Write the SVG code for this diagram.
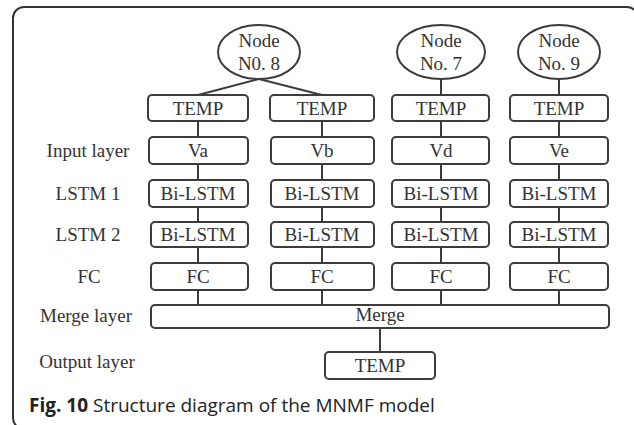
<svg xmlns="http://www.w3.org/2000/svg" width="634" height="425" viewBox="0 0 634 425">
<style>
.bx{fill:#fff;stroke:#3c3c3c;stroke-width:2}
.el{fill:#fff;stroke:#3c3c3c;stroke-width:2}
.t{font-family:"Liberation Serif","Times New Roman",serif;font-size:19px;fill:#333;text-anchor:middle}
.ln{stroke:#3c3c3c;stroke-width:2;fill:none}
.cap{font-family:"Open Sans","Noto Sans",sans-serif;font-size:19px;fill:#222}
</style>
<rect x="13" y="7" width="625" height="422" rx="11" fill="#fff" stroke="#333" stroke-width="2"/>
<g id="labels">
<text class="t" x="88" y="157">Input layer</text>
<text class="t" x="88" y="200">LSTM 1</text>
<text class="t" x="88" y="241">LSTM 2</text>
<text class="t" x="89" y="283">FC</text>
<text class="t" x="86" y="322">Merge layer</text>
<text class="t" x="87" y="368">Output layer</text>
</g>
<g id="connectors">
<line class="ln" x1="259" y1="79" x2="198" y2="95"/>
<line class="ln" x1="259" y1="79" x2="322" y2="95"/>
<line class="ln" x1="441" y1="79" x2="441" y2="95"/>
<line class="ln" x1="559" y1="79" x2="559" y2="95"/>
<line class="ln" x1="198" y1="121" x2="198" y2="305"/>
<line class="ln" x1="322" y1="121" x2="322" y2="305"/>
<line class="ln" x1="441" y1="121" x2="441" y2="305"/>
<line class="ln" x1="559" y1="121" x2="559" y2="305"/>
<line class="ln" x1="380" y1="328" x2="380" y2="352"/>
</g>
<g id="node8"><ellipse class="el" cx="259" cy="52" rx="41" ry="27"/><text class="t" x="259" y="47">Node</text><text class="t" x="259" y="70">N0. 8</text></g>
<g id="node7"><ellipse class="el" cx="441" cy="52" rx="44" ry="27"/><text class="t" x="441" y="47">Node</text><text class="t" x="441" y="70">No. 7</text></g>
<g id="node9"><ellipse class="el" cx="559" cy="52" rx="41" ry="27"/><text class="t" x="559" y="47">Node</text><text class="t" x="559" y="70">No. 9</text></g>

<g id="temp-a"><rect class="bx" x="148" y="95" width="100" height="26" rx="4"/><text class="t" x="198" y="115">TEMP</text></g>
<g id="temp-b"><rect class="bx" x="270" y="95" width="104" height="26" rx="4"/><text class="t" x="322" y="115">TEMP</text></g>
<g id="temp-d"><rect class="bx" x="392" y="95" width="97" height="26" rx="4"/><text class="t" x="441" y="115">TEMP</text></g>
<g id="temp-e"><rect class="bx" x="510" y="95" width="98" height="26" rx="4"/><text class="t" x="559" y="115">TEMP</text></g>

<g id="va"><rect class="bx" x="149" y="137" width="99" height="27" rx="4"/><text class="t" x="198" y="157">Va</text></g>
<g id="vb"><rect class="bx" x="271" y="137" width="103" height="27" rx="4"/><text class="t" x="322" y="157">Vb</text></g>
<g id="vd"><rect class="bx" x="392" y="137" width="97" height="27" rx="4"/><text class="t" x="441" y="157">Vd</text></g>
<g id="ve"><rect class="bx" x="510" y="137" width="98" height="27" rx="4"/><text class="t" x="559" y="157">Ve</text></g>

<g id="l1a"><rect class="bx" x="149" y="180" width="99" height="27" rx="4"/><text class="t" x="198" y="200">Bi-LSTM</text></g>
<g id="l1b"><rect class="bx" x="271" y="180" width="103" height="27" rx="4"/><text class="t" x="322" y="200">Bi-LSTM</text></g>
<g id="l1d"><rect class="bx" x="392" y="180" width="97" height="27" rx="4"/><text class="t" x="441" y="200">Bi-LSTM</text></g>
<g id="l1e"><rect class="bx" x="510" y="180" width="98" height="27" rx="4"/><text class="t" x="559" y="200">Bi-LSTM</text></g>

<g id="l2a"><rect class="bx" x="151" y="222" width="97" height="25" rx="4"/><text class="t" x="198" y="241">Bi-LSTM</text></g>
<g id="l2b"><rect class="bx" x="271" y="222" width="103" height="25" rx="4"/><text class="t" x="322" y="241">Bi-LSTM</text></g>
<g id="l2d"><rect class="bx" x="392" y="222" width="97" height="25" rx="4"/><text class="t" x="441" y="241">Bi-LSTM</text></g>
<g id="l2e"><rect class="bx" x="510" y="222" width="98" height="25" rx="4"/><text class="t" x="559" y="241">Bi-LSTM</text></g>

<g id="fca"><rect class="bx" x="151" y="263" width="97" height="27" rx="4"/><text class="t" x="198" y="283">FC</text></g>
<g id="fcb"><rect class="bx" x="271" y="263" width="103" height="27" rx="4"/><text class="t" x="322" y="283">FC</text></g>
<g id="fcd"><rect class="bx" x="392" y="263" width="97" height="27" rx="4"/><text class="t" x="441" y="283">FC</text></g>
<g id="fce"><rect class="bx" x="510" y="263" width="98" height="27" rx="4"/><text class="t" x="559" y="283">FC</text></g>

<g id="merge"><rect class="bx" x="151" y="305" width="458" height="23" rx="4"/><text class="t" x="380" y="321">Merge</text></g>
<g id="out"><rect class="bx" x="325" y="352" width="110" height="27" rx="4"/><text class="t" x="380" y="372">TEMP</text></g>

<text class="cap" x="29" y="412"><tspan font-weight="bold">Fig. 10</tspan> Structure diagram of the MNMF model</text>
</svg>
